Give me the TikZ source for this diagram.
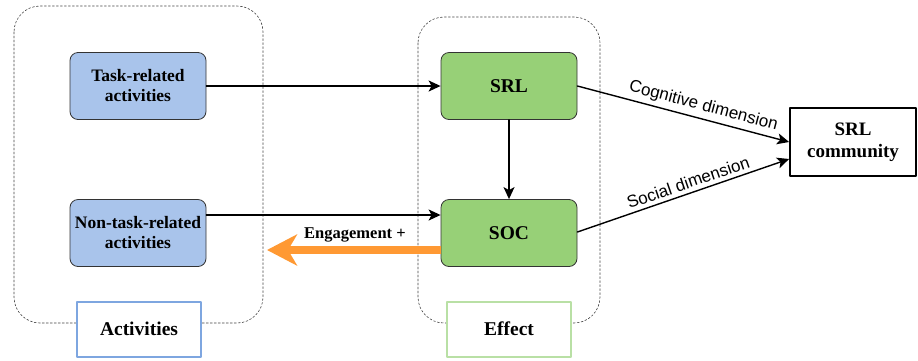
\documentclass[tikz,border=0pt]{standalone}
\usepackage{fontspec}
\setmainfont{Liberation Serif}
\setsansfont{Liberation Sans}
\usetikzlibrary{arrows.meta}
\definecolor{actblue}{HTML}{A9C4EB}
\definecolor{actline}{HTML}{7EA6E0}
\definecolor{effgreen}{HTML}{97D077}
\definecolor{effline}{HTML}{B9E0A5}
\definecolor{engorange}{HTML}{FF9933}

\begin{document}
\begin{tikzpicture}[line cap=round,line join=round,x=1pt,y=-1pt,>={Stealth[length=12pt,width=11pt,inset=3pt]},
	group/.style={draw=black!75,dash pattern=on 2pt off 2pt,rounded corners=26pt,line width=0.6pt},
	actbox/.style={draw=black!80,fill=actblue,rounded corners=8pt,line width=0.8pt,minimum width=136pt,minimum height=67pt,inner sep=1pt,align=center,font=\fontsize{17.5}{20}\selectfont\bfseries},
	effbox/.style={actbox,fill=effgreen,font=\fontsize{19.5}{22}\selectfont\bfseries},
	tagbox/.style={draw,fill=white,line width=2pt,minimum width=124pt,minimum height=55pt,font=\fontsize{19.5}{22}\selectfont\bfseries},
	dimlabel/.style={sloped,above,font=\sffamily\fontsize{17}{19}\selectfont,inner sep=4pt},
	link/.style={->,line width=1.4pt}]
	\useasboundingbox (0,0) rectangle (918,360);
	% groups
	\draw [group] (14,6) rectangle (263,323);
	\draw [group] (418,17) rectangle (600,323);
	% boxes
	\node [actbox] (task) at (138,86) {Task-related\\activities};
	\node [actbox] (nontask) at (138,233) {Non-task-related\\activities};
	\node [effbox] (srl) at (509,86) {SRL};
	\node [effbox] (soc) at (509,233) {SOC};
	\node [tagbox,draw=actline] (activities) at (139,329) {Activities};
	\node [tagbox,draw=effline] (effect) at (509,329) {Effect};
	\node [draw,line width=1.8pt,fill=white,minimum width=126pt,minimum height=68pt,align=center,font=\fontsize{19}{22}\selectfont\bfseries] (community) at (853,142) {SRL\\community};
	% links
	\draw [link] (task.east) -- (srl.west);
	\draw [link] (nontask.east |- 0,215) -- (soc.west |- 0,215);
	\draw [link] (srl.south) -- (soc.north);
	\draw [link] (srl.east) -- node [dimlabel,pos=0.58] {Cognitive dimension} (community.west);
	\draw [link] (soc.east |- 0,232) -- node [dimlabel,pos=0.54] {Social dimension} (community.west |- 0,159);
	\coordinate (engend) at (267,250);
	\draw [engorange,line width=8pt,line cap=butt,-{Stealth[length=30pt,width=31pt,inset=9pt]}] (soc.west |- 0,250) -- (engend);
	\node [font=\fontsize{16.5}{19}\selectfont\bfseries] (eng) at (355,235) {Engagement +};
\end{tikzpicture}
\end{document}
